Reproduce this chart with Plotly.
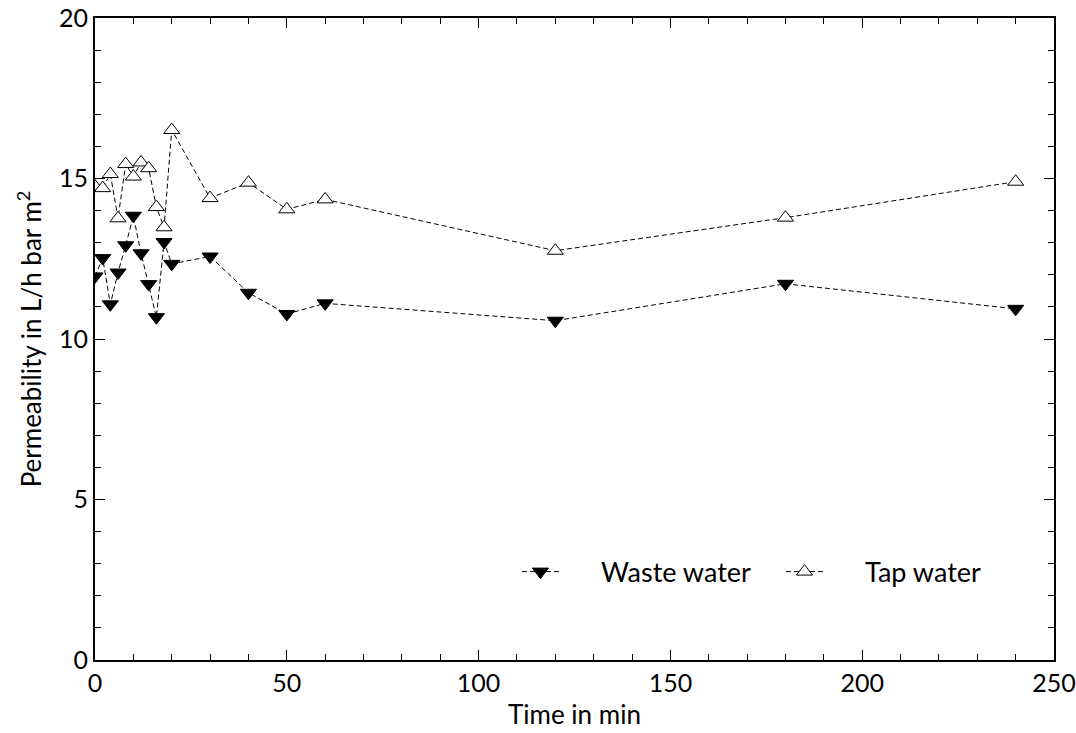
import plotly.graph_objects as go

time_min = [0, 2, 4, 6, 8, 10, 12, 14, 16, 18, 20, 30, 40, 50, 60, 120, 180, 240]
waste_water = [11.95, 12.52, 11.08, 12.07, 12.92, 13.84, 12.67, 11.71, 10.68, 13.02,
               12.34, 12.57, 11.44, 10.78, 11.11, 10.57, 11.72, 10.94]
tap_water = [14.75, 14.70, 15.14, 13.76, 15.45, 15.06, 15.50, 15.32, 14.11, 13.48,
             16.51, 14.39, 14.87, 14.04, 14.35, 12.75, 13.78, 14.90]

FONT = "Lato"
GAP = "\u2003\u2002\u2009"

fig = go.Figure()
fig.add_trace(go.Scatter(
    x=time_min, y=waste_water, name=GAP + "Waste water", mode="lines+markers",
    line=dict(color="black", width=1, dash="5px,3px"),
    marker=dict(symbol="triangle-down", size=14, color="black",
                line=dict(color="black", width=1)),
))
fig.add_trace(go.Scatter(
    x=time_min, y=tap_water, name=GAP + "Tap water", mode="lines+markers",
    line=dict(color="black", width=1, dash="5px,3px"),
    marker=dict(symbol="triangle-up", size=14, color="white",
                line=dict(color="black", width=1)),
))

axis_common = dict(
    showline=True, linecolor="black", linewidth=2, mirror="allticks",
    ticks="inside", ticklen=10, tickwidth=1, tickcolor="black",
    showgrid=False, zeroline=False, ticklabeloverflow="allow", automargin=False,
    tickfont=dict(family=FONT, size=25, color="black"),
)

fig.update_xaxes(
    range=[0, 250], tick0=0, dtick=50,
    minor=dict(dtick=10, ticks="inside", ticklen=6, tickcolor="black", tickwidth=1, showgrid=False),
    title=dict(text="Time in min", font=dict(family=FONT, size=26, color="black"), standoff=10),
    **axis_common,
)
fig.update_yaxes(
    range=[0, 20], tick0=0, dtick=5,
    minor=dict(dtick=1, ticks="inside", ticklen=6, tickcolor="black", tickwidth=1, showgrid=False),
    title=dict(text="Permeability in L/h bar m<sup>2</sup>", font=dict(family=FONT, size=26, color="black"), standoff=10),
    **axis_common,
)

fig.update_layout(
    width=1076, height=733,
    margin=dict(l=95, r=22, t=18, b=73),
    plot_bgcolor="white", paper_bgcolor="white",
    font=dict(family=FONT, size=26, color="black"),
    legend=dict(
        orientation="h", x=0.44, y=0.137, xanchor="left", yanchor="middle",
        bgcolor="rgba(0,0,0,0)", itemwidth=37, entrywidth=212,
        font=dict(family=FONT, size=27, color="black"),
    ),
)

fig.write_html("out.html")
